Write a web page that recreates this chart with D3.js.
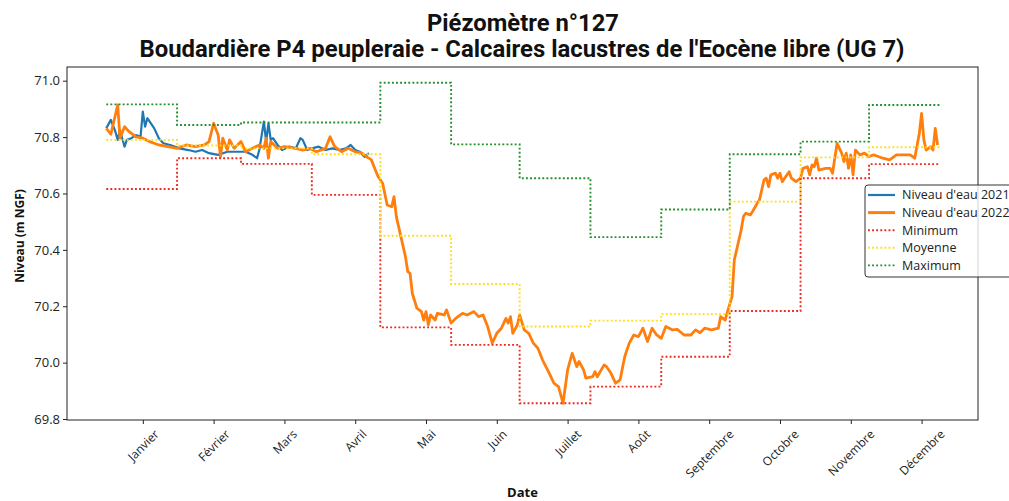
<!DOCTYPE html>
<html>
<head>
<meta charset="utf-8">
<script src="https://cdn.jsdelivr.net/npm/d3@7"></script>
<style>
  body { margin: 0; background: #fff; }
  .tick text { font-family: "Open Sans", sans-serif; font-size: 12px; fill: #222; }
  .yaxis .tick text { font-size: 13px; }
  .axis path, .axis line { stroke: #222; }
</style>
</head>
<body>
<div id="chart"></div>
<script>
// Tick labels (months) and where they sit on the day-of-year axis
var monthLabels = ["Janvier", "Février", "Mars", "Avril", "Mai", "Juin", "Juillet", "Août",
    "Septembre", "Octobre", "Novembre", "Décembre"];
var monthTickDays = [16, 47, 78, 109, 140, 171, 202, 233, 264, 295, 326, 357];
var levelTicks = [69.8, 70.0, 70.2, 70.4, 70.6, 70.8, 71.0];

// Monthly statistics (step lines): month start days + one closing day
var monthStartDays = [0, 31, 59, 90, 120, 151, 181, 212, 243, 273, 304, 334, 365];
var minimumLevels = [70.616, 70.725, 70.705, 70.595, 70.125, 70.063, 69.856, 69.915, 70.021, 70.183, 70.654, 70.704];
var moyenneLevels = [70.79, 70.77, 70.76, 70.739, 70.45, 70.279, 70.128, 70.149, 70.172, 70.571, 70.728, 70.764];
var maximumLevels = [70.916, 70.843, 70.852, 70.852, 70.993, 70.774, 70.654, 70.445, 70.543, 70.739, 70.784, 70.914];

// Niveau d'eau 2021 (only until April)
var blueDays = [0, 2, 4, 5, 6, 8, 9, 11, 13, 15, 16, 17, 18, 21, 23, 25, 28, 32, 36, 39, 42, 45, 49, 53, 56,
    61, 64, 66, 67, 69, 70, 71, 72, 73, 75, 77, 80, 83, 85, 86, 88, 90, 93, 96, 99, 102, 105, 107, 109, 111, 113, 115];
var blueLevels = [70.831, 70.861, 70.819, 70.79, 70.825, 70.766, 70.79, 70.796, 70.807, 70.801, 70.89, 70.837, 70.867,
    70.831, 70.796, 70.778, 70.772, 70.76, 70.754, 70.748, 70.754, 70.743, 70.737, 70.748, 70.748,
    70.748, 70.737, 70.725, 70.754, 70.855, 70.784, 70.849, 70.79, 70.796, 70.772, 70.754, 70.766, 70.76, 70.796,
    70.79, 70.754, 70.76, 70.766, 70.754, 70.76, 70.754, 70.76, 70.772, 70.754, 70.748, 70.73, 70.743];

// Niveau d'eau 2022 (whole year)
var orangeDays = [0, 2, 5, 6, 8, 10, 13, 16, 19, 23, 27, 31, 35, 39, 43, 45, 47, 49, 50, 51, 53, 54, 56, 59, 61,
    64, 67, 69, 70, 71, 72, 75, 78, 83, 86, 89, 92, 96, 98, 100, 103, 106, 109, 112, 114, 116, 118, 119,
    121, 123, 125, 126, 127, 129, 131, 132, 133, 134, 136, 138, 139, 140, 141, 142, 144, 145, 148, 149,
    151, 153, 156, 158, 161, 163, 165, 167, 169, 171, 173, 175, 176, 177, 178, 180, 181, 183, 185, 187,
    189, 191, 194, 196, 198, 200, 202, 203, 204, 206, 207, 209, 210, 213, 214, 215, 218, 219, 221, 223,
    225, 227, 229, 231, 233, 235, 237, 239, 241, 243, 245, 248, 250, 253, 256, 258, 260, 262, 265, 268,
    269, 271, 272, 274, 275, 277, 278, 279, 280, 282, 283, 285, 286, 288, 289, 290, 291, 293, 294, 295,
    296, 299, 300, 302, 304, 305, 307, 308, 309, 310, 311, 312, 315, 317, 318, 320, 322, 323, 324, 325,
    326, 327, 328, 330, 332, 334, 336, 338, 340, 343, 346, 349, 352, 354, 356, 357, 358, 359, 361, 362, 363, 364];
var orangeLevels = [70.831, 70.81, 70.914, 70.796, 70.837, 70.819, 70.801, 70.796, 70.784, 70.772, 70.766, 70.76,
    70.772, 70.766, 70.772, 70.784, 70.849, 70.807, 70.73, 70.796, 70.754, 70.79, 70.76, 70.784, 70.748,
    70.76, 70.772, 70.76, 70.796, 70.725, 70.784, 70.76, 70.766, 70.76, 70.754, 70.76, 70.748, 70.76, 70.801,
    70.766, 70.748, 70.76, 70.748, 70.743, 70.73, 70.72, 70.68, 70.66,
    70.636, 70.559, 70.553, 70.589, 70.518, 70.447, 70.376, 70.323, 70.317, 70.246, 70.193, 70.181, 70.151,
    70.181, 70.134, 70.169, 70.151, 70.175, 70.169, 70.187,
    70.14, 70.157, 70.175, 70.169, 70.181, 70.163, 70.169, 70.128, 70.069, 70.104, 70.122, 70.157, 70.14,
    70.163, 70.104, 70.134, 70.169, 70.116, 70.104, 70.069,
    70.051, 70.01, 69.962, 69.927, 69.915, 69.856, 69.974, 70.004, 70.033, 69.986, 70.004, 69.974, 69.945,
    69.95, 69.968, 69.95, 69.992, 69.986, 69.962, 69.927,
    69.939, 70.021, 70.069, 70.098, 70.092, 70.122, 70.075, 70.122, 70.098, 70.086, 70.128, 70.116, 70.118,
    70.098, 70.098, 70.116, 70.106, 70.122, 70.116, 70.122,
    70.163, 70.151, 70.181, 70.234, 70.364, 70.435, 70.47, 70.518, 70.53, 70.524, 70.536, 70.565, 70.577,
    70.648, 70.654, 70.624, 70.666, 70.672, 70.654, 70.672,
    70.642, 70.677, 70.654, 70.642, 70.654, 70.689, 70.695, 70.666, 70.701, 70.695, 70.725, 70.683, 70.689,
    70.689, 70.672, 70.778, 70.743, 70.713, 70.743, 70.689,
    70.737, 70.666, 70.754, 70.737, 70.743, 70.731, 70.737, 70.731, 70.725, 70.719, 70.737, 70.737, 70.737,
    70.725, 70.813, 70.884, 70.79, 70.754, 70.766, 70.754, 70.831, 70.772];

// Set svg height and width
var svgWidth = 1009;
var svgHeight = 501;

var margin = { top: 67, right: 31, bottom: 81, left: 67 };
var chartWidth = svgWidth - margin.left - margin.right;
var chartHeight = svgHeight - margin.top - margin.bottom;

var svg = d3.select("#chart")
    .append("svg")
    .attr("width", svgWidth)
    .attr("height", svgHeight)
    .style("display", "block");

svg.append("rect").attr("width", svgWidth).attr("height", svgHeight).attr("fill", "#fff");

var chartGroup = svg.append("g")
    .attr("transform", `translate(${margin.left}, ${margin.top})`);

// Scales
var xScale = d3.scaleLinear()
    .domain([-17.2, 381.7])
    .range([0, chartWidth]);

var yScale = d3.scaleLinear()
    .domain([69.7965, 71.0486])
    .range([chartHeight, 0]);

// Build point lists
function zipSeries(days, levels) {
    return days.map(function (d, i) { return { day: d, level: levels[i] }; });
}
function monthSeries(levels) {
    var withEnd = levels.concat([levels[levels.length - 1]]);
    return zipSeries(monthStartDays, withEnd);
}

var line = d3.line()
    .x(d => xScale(d.day))
    .y(d => yScale(d.level));

var stepLine = d3.line()
    .x(d => xScale(d.day))
    .y(d => yScale(d.level))
    .curve(d3.curveStepAfter);

// Water level lines
chartGroup.append("path")
    .datum(zipSeries(blueDays, blueLevels))
    .attr("d", line)
    .attr("fill", "none")
    .attr("stroke", "#1f77b4")
    .attr("stroke-width", 2.2)
    .attr("stroke-linejoin", "round");

chartGroup.append("path")
    .datum(zipSeries(orangeDays, orangeLevels))
    .attr("d", line)
    .attr("fill", "none")
    .attr("stroke", "#ff7f0e")
    .attr("stroke-width", 2.8)
    .attr("stroke-linejoin", "round");

// Min / mean / max monthly steps
var stats = [
    { name: "Minimum", levels: minimumLevels, color: "#ee2a1e" },
    { name: "Moyenne", levels: moyenneLevels, color: "#ffdd1a" },
    { name: "Maximum", levels: maximumLevels, color: "#23902b" }
];

stats.forEach(function (s) {
    chartGroup.append("path")
        .datum(monthSeries(s.levels))
        .attr("d", stepLine)
        .attr("fill", "none")
        .attr("stroke", s.color)
        .attr("stroke-width", 1.9)
        .attr("stroke-dasharray", "1.9,2.2");
});

// Axes
var bottomAxis = d3.axisBottom(xScale)
    .tickValues(monthTickDays)
    .tickFormat((d, i) => monthLabels[i])
    .tickSizeOuter(0)
    .tickSize(4);

var leftAxis = d3.axisLeft(yScale)
    .tickValues(levelTicks)
    .tickFormat(d3.format(".1f"))
    .tickSizeOuter(0)
    .tickSize(4);

chartGroup.append("g")
    .attr("class", "axis yaxis")
    .call(leftAxis)
    .call(g => g.select(".domain").remove());

var xAxisGroup = chartGroup.append("g")
    .classed("axis", true)
    .attr("transform", `translate(0, ${chartHeight})`)
    .call(bottomAxis)
    .call(g => g.select(".domain").remove());

// Rotated month labels: bbox centred on the tick, top just under it
xAxisGroup.selectAll(".tick text")
    .attr("y", 0)
    .attr("dy", "0.35em")
    .attr("text-anchor", "middle")
    .attr("transform", function () {
        var w = this.getComputedTextLength();
        var off = 7 + (w + 14) * 0.7071 / 2;
        return `translate(0, ${off}) rotate(-45)`;
    });

// Plot frame
chartGroup.append("rect")
    .attr("width", chartWidth)
    .attr("height", chartHeight)
    .attr("fill", "none")
    .attr("stroke", "#222")
    .attr("stroke-width", 1);

// Titles
svg.append("text")
    .attr("x", 523)
    .attr("y", 31)
    .attr("text-anchor", "middle")
    .attr("textLength", 192)
    .attr("lengthAdjust", "spacingAndGlyphs")
    .style("font-family", "Roboto, sans-serif")
    .style("font-weight", "bold")
    .style("font-size", "23px")
    .style("fill", "#111")
    .text("Piézomètre n°127");

svg.append("text")
    .attr("x", 522)
    .attr("y", 57)
    .attr("text-anchor", "middle")
    .attr("textLength", 765)
    .attr("lengthAdjust", "spacingAndGlyphs")
    .style("font-family", "Roboto, sans-serif")
    .style("font-weight", "bold")
    .style("font-size", "23px")
    .style("fill", "#111")
    .text("Boudardière P4 peupleraie - Calcaires lacustres de l'Eocène libre (UG 7)");

// Axis labels
svg.append("text")
    .attr("transform", "translate(24, 236) rotate(-90)")
    .attr("text-anchor", "middle")
    .style("font-family", "'Open Sans', sans-serif")
    .style("font-weight", "bold")
    .style("font-size", "12px")
    .style("fill", "#111")
    .text("Niveau (m NGF)");

svg.append("text")
    .attr("x", margin.left + chartWidth / 2)
    .attr("y", 497)
    .attr("text-anchor", "middle")
    .style("font-family", "'Open Sans', sans-serif")
    .style("font-weight", "bold")
    .style("font-size", "13px")
    .style("fill", "#111")
    .text("Date");

// Legend
var legendItems = [
    { name: "Niveau d'eau 2021", color: "#1f77b4", width: 2.2, dash: null },
    { name: "Niveau d'eau 2022", color: "#ff7f0e", width: 3, dash: null },
    { name: "Minimum", color: stats[0].color, width: 1.9, dash: "1.9,2.2" },
    { name: "Moyenne", color: stats[1].color, width: 1.9, dash: "1.9,2.2" },
    { name: "Maximum", color: stats[2].color, width: 1.9, dash: "1.9,2.2" }
];

var legend = svg.append("g")
    .attr("transform", "translate(865, 185)");

legend.append("rect")
    .attr("width", 200)
    .attr("height", 92)
    .attr("rx", 3)
    .attr("fill", "#fff")
    .attr("fill-opacity", 0.8)
    .attr("stroke", "#333")
    .attr("stroke-width", 1);

legendItems.forEach(function (item, i) {
    var y = 10 + i * 17.6;
    legend.append("line")
        .attr("x1", 3).attr("x2", 30)
        .attr("y1", y).attr("y2", y)
        .attr("stroke", item.color)
        .attr("stroke-width", item.width)
        .attr("stroke-dasharray", item.dash);
    legend.append("text")
        .attr("x", 37)
        .attr("y", y)
        .attr("dy", "0.35em")
        .style("font-family", "'Open Sans', sans-serif")
        .style("font-size", "12.5px")
        .style("fill", "#222")
        .text(item.name);
});
</script>
</body>
</html>
